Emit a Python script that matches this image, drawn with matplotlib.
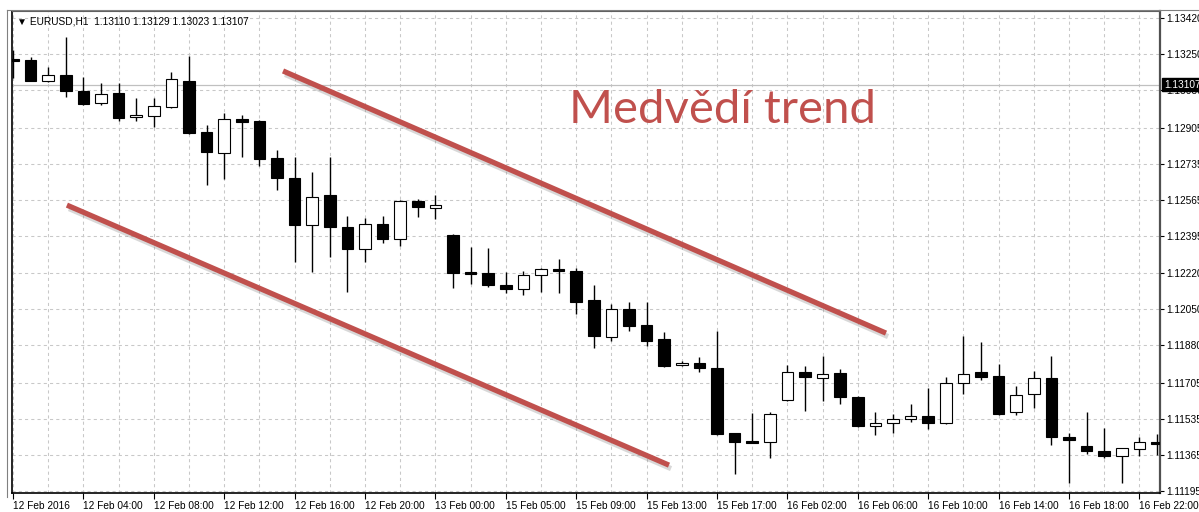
import matplotlib
matplotlib.use("Agg")
import matplotlib.pyplot as plt
import matplotlib.patheffects as pe
from matplotlib.lines import Line2D
import numpy as np

# hourly EURUSD bars, 12-16 Feb 2016
opens = [1.13227, 1.13222, 1.13124, 1.13152, 1.13077, 1.13020, 1.13067, 1.12954, 1.12959, 1.13001,
         1.13124, 1.12884, 1.12785, 1.12945, 1.12935, 1.12761, 1.12667, 1.12446, 1.12587, 1.12437,
         1.12333, 1.12451, 1.12380, 1.12559, 1.12526, 1.12399, 1.12225, 1.12220, 1.12164, 1.12145,
         1.12211, 1.12239, 1.12230, 1.12093, 1.11919, 1.12051, 1.11976, 1.11910, 1.11788, 1.11797,
         1.11774, 1.11468, 1.11430, 1.11426, 1.11623, 1.11755, 1.11727, 1.11750, 1.11637, 1.11501,
         1.11515, 1.11534, 1.11548, 1.11515, 1.11703, 1.11755, 1.11736, 1.11567, 1.11651, 1.11727,
         1.11449, 1.11407, 1.11383, 1.11360, 1.11393, 1.11426]
highs = [1.13269, 1.13237, 1.13190, 1.13331, 1.13142, 1.13114, 1.13114, 1.13044, 1.13044, 1.13166,
         1.13241, 1.12917, 1.12973, 1.12964, 1.12940, 1.12799, 1.12766, 1.12696, 1.12766, 1.12489,
         1.12479, 1.12489, 1.12563, 1.12569, 1.12587, 1.12404, 1.12343, 1.12338, 1.12225, 1.12230,
         1.12243, 1.12286, 1.12243, 1.12164, 1.12075, 1.12084, 1.12084, 1.11943, 1.11807, 1.11825,
         1.11948, 1.11470, 1.11562, 1.11567, 1.11788, 1.11783, 1.11830, 1.11769, 1.11642, 1.11567,
         1.11557, 1.11604, 1.11680, 1.11731, 1.11924, 1.11896, 1.11792, 1.11689, 1.11759, 1.11830,
         1.11468, 1.11567, 1.11491, 1.11400, 1.11449, 1.11463]
lows = [1.13138, 1.13122, 1.13119, 1.13048, 1.13011, 1.13011, 1.12935, 1.12935, 1.12907, 1.12998,
        1.12876, 1.12634, 1.12663, 1.12766, 1.12724, 1.12611, 1.12272, 1.12225, 1.12296, 1.12131,
        1.12272, 1.12362, 1.12348, 1.12484, 1.12474, 1.12150, 1.12169, 1.12155, 1.12126, 1.12117,
        1.12131, 1.12126, 1.12028, 1.11868, 1.11901, 1.11948, 1.11877, 1.11778, 1.11785, 1.11755,
        1.11460, 1.11275, 1.11419, 1.11350, 1.11618, 1.11571, 1.11618, 1.11604, 1.11498, 1.11458,
        1.11468, 1.11520, 1.11487, 1.11510, 1.11651, 1.11717, 1.11555, 1.11553, 1.11585, 1.11411,
        1.11233, 1.11369, 1.11350, 1.11233, 1.11360, 1.11364]
closes = [1.13218, 1.13124, 1.13152, 1.13077, 1.13015, 1.13062, 1.12950, 1.12964, 1.13006, 1.13133,
          1.12879, 1.12790, 1.12945, 1.12931, 1.12757, 1.12667, 1.12446, 1.12578, 1.12437, 1.12333,
          1.12451, 1.12380, 1.12559, 1.12531, 1.12540, 1.12220, 1.12216, 1.12164, 1.12145, 1.12211,
          1.12239, 1.12230, 1.12084, 1.11924, 1.12051, 1.11971, 1.11901, 1.11783, 1.11797, 1.11774,
          1.11463, 1.11426, 1.11421, 1.11557, 1.11755, 1.11731, 1.11745, 1.11637, 1.11501, 1.11515,
          1.11534, 1.11548, 1.11515, 1.11703, 1.11745, 1.11731, 1.11557, 1.11647, 1.11727, 1.11449,
          1.11435, 1.11383, 1.11360, 1.11397, 1.11426, 1.11416]

time_labels = ["12 Feb 2016", "12 Feb 04:00", "12 Feb 08:00", "12 Feb 12:00", "12 Feb 16:00",
               "12 Feb 20:00", "13 Feb 00:00", "15 Feb 05:00", "15 Feb 09:00", "15 Feb 13:00",
               "15 Feb 17:00", "16 Feb 02:00", "16 Feb 06:00", "16 Feb 10:00", "16 Feb 14:00",
               "16 Feb 18:00", "16 Feb 22:00"]
price_ticks = [1.13420, 1.13250, 1.13080, 1.12905, 1.12735, 1.12565, 1.12395, 1.12220,
               1.12050, 1.11880, 1.11705, 1.11535, 1.11365, 1.11195]
bid = 1.13107
header = "\u25bc EURUSD,H1  1.13110 1.13129 1.13023 1.13107"

# hand drawn channel (bar index, price)
upper_line = ([15.34, 49.6], [1.13171, 1.11938])
lower_line = ([3.06, 37.27], [1.12540, 1.11317])
title_text = "Medvědí trend"

W, H = 1199, 512
fig = plt.figure(figsize=(W / 100, H / 100), dpi=100)
fig.patch.set_facecolor("white")
ax = fig.add_axes([12 / W, 19 / H, 1148 / W, 482 / H])

x = np.arange(len(opens))
o = np.array(opens); c = np.array(closes)
up = c >= o
bottom = np.minimum(o, c)
height = np.abs(c - o)

ax.vlines(x, lows, highs, color="black", lw=1.0, zorder=3)
ax.bar(x, height, bottom=bottom, width=0.66,
       color=np.where(up, "white", "black"), edgecolor="black", lw=0.8, zorder=4)

# bid line
ax.axhline(bid, color="#c0c0c0", lw=0.9, zorder=1)

# trend channel
red = "#c0504d"
fx = [pe.SimpleLineShadow(offset=(1.5, -2.5), shadow_color="#808080", alpha=0.3), pe.Normal()]
for lx, ly in (upper_line, lower_line):
    ax.plot(lx, ly, color=red, lw=3.8, solid_capstyle="butt", zorder=5, path_effects=fx)
ax.text(40.3, 1.12926, title_text, color=red, fontsize=34, family=["Lato", "DejaVu Sans"],
        ha="center", va="baseline", zorder=6)

ax.set_xlim(-0.06, 65.17)
ax.set_ylim(1.11186, 1.13453)

# axes / ticks
lab_font = ["Liberation Sans", "DejaVu Sans"]
ax.yaxis.tick_right()
ax.set_yticks(price_ticks)
ax.set_yticklabels([f"{p:.5f}" for p in price_ticks], family=lab_font, fontsize=7.3)
ax.tick_params(axis="y", length=3, width=0.8, pad=1.5, direction="out")
ax.set_xticks(np.arange(0, 65, 4))
ax.set_xticklabels(time_labels, family=lab_font, fontsize=7.3)
for t in ax.get_xticklabels():
    t.set_ha("left")
ax.set_xticks(np.arange(0, 66, 2), minor=True)
ax.tick_params(axis="x", which="major", length=4, width=0.8, pad=1.5, direction="out")
ax.tick_params(axis="x", which="minor", length=0)
ax.grid(True, which="both", axis="x", color="#c8c8c8", ls=(0, (3, 3)), lw=0.75)
ax.grid(True, which="major", axis="y", color="#c8c8c8", ls=(0, (3, 3)), lw=0.75)
ax.set_axisbelow(True)

for s in ("left", "bottom"):
    ax.spines[s].set_color("black"); ax.spines[s].set_linewidth(1.2)
ax.spines["top"].set_color("#606060"); ax.spines["top"].set_linewidth(0.8)
ax.spines["right"].set_color("#505050"); ax.spines["right"].set_linewidth(1.6)

# current price tag on the price scale
yb = ax.transData.transform((0, bid))[1] / H
fig.text(1164 / W, yb, "1.13107", color="white", fontsize=7.3, family=lab_font, va="center",
         ha="left", bbox=dict(boxstyle="square,pad=0.15", fc="black", ec="black"), zorder=10)

fig.text(17 / W, (H - 22) / H, header, fontsize=7.3, family=lab_font, va="center", ha="left")

# outer chart frame
fig.add_artist(Line2D([7 / W, 7 / W], [15 / H, (H - 10) / H], color="#808080", lw=0.8))
fig.add_artist(Line2D([7 / W, 1 - 0.5 / W], [(H - 10) / H, (H - 10) / H], color="#808080", lw=0.8))

fig.savefig("out.png", dpi=100)
